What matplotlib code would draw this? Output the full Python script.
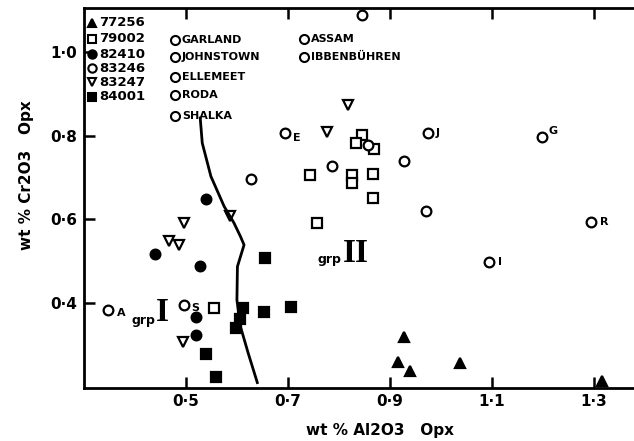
import matplotlib
matplotlib.use("Agg")
import matplotlib.pyplot as plt

# ---------------- data ----------------
s77256_x = [0.928, 0.916, 0.940, 1.038, 1.317]
s77256_y = [0.319, 0.258, 0.236, 0.256, 0.213]

s79002_x = [0.845, 0.833, 0.868, 0.743, 0.826, 0.826, 0.866, 0.866, 0.757, 0.556]
s79002_y = [0.802, 0.784, 0.768, 0.707, 0.707, 0.687, 0.708, 0.651, 0.591, 0.387]

s82410_x = [0.539, 0.439, 0.528, 0.519, 0.520]
s82410_y = [0.648, 0.517, 0.489, 0.366, 0.323]

s83246_x = [0.845, 0.627, 0.786, 0.858, 0.928, 0.971]
s83246_y = [1.090, 0.697, 0.728, 0.778, 0.741, 0.619]

s83247_x = [0.817, 0.776, 0.586, 0.497, 0.467, 0.486, 0.495]
s83247_y = [0.874, 0.810, 0.608, 0.591, 0.549, 0.539, 0.306]

s84001_x = [0.656, 0.611, 0.606, 0.598, 0.654, 0.706, 0.539, 0.558]
s84001_y = [0.507, 0.387, 0.361, 0.339, 0.377, 0.390, 0.278, 0.222]

# labelled localities (open circles with letter tags)
site_x = [0.694, 0.974, 1.198, 1.295, 1.095, 0.348, 0.496]
site_y = [0.808, 0.808, 0.798, 0.593, 0.498, 0.383, 0.395]
site_tag = ["E", "J", "G", "R", "I", "A", "S"]

# boundary curve
curve_x = [0.528, 0.532, 0.549, 0.575, 0.594, 0.607, 0.614, 0.601, 0.600, 0.607, 0.622, 0.640]
curve_y = [0.843, 0.783, 0.703, 0.631, 0.592, 0.559, 0.539, 0.487, 0.407, 0.343, 0.280, 0.209]

series_names = ["77256", "79002", "82410", "83246", "83247", "84001"]
sites_col1 = ["GARLAND", "JOHNSTOWN", "ELLEMEET", "RODA", "SHALKA"]
sites_col2 = ["ASSAM", "IBBENBÜHREN"]

xticks = [0.5, 0.7, 0.9, 1.1, 1.3]
xtick_labels = ["0·5", "0·7", "0·9", "1·1", "1·3"]
yticks = [0.4, 0.6, 0.8, 1.0]
ytick_labels = ["0·4", "0·6", "0·8", "1·0"]

# ---------------- figure ----------------
W, H = 634, 441
fig = plt.figure(figsize=(W / 100, H / 100), dpi=100)
ax = fig.add_axes([84 / W, 1 - 388 / H, 1 - 84 / W, (388 - 8) / H])
ax.set_xlim(0.3, 1.379)
ax.set_ylim(0.196, 1.1066)

k = "black"
ms_kw = dict(linestyle="none", markeredgecolor=k, markeredgewidth=1.6, clip_on=False)
ax.plot(s77256_x, s77256_y, marker="^", markersize=7, color=k, **ms_kw)
ax.plot(s79002_x, s79002_y, marker="s", markersize=6.5, markerfacecolor="white", **ms_kw)
ax.plot(s82410_x, s82410_y, marker="o", markersize=7, color=k, **ms_kw)
ax.plot(s83246_x, s83246_y, marker="o", markersize=7, markerfacecolor="white", **ms_kw)
ax.plot(s83247_x, s83247_y, marker="v", markersize=6.5, markerfacecolor="white", **ms_kw)
ax.plot(s84001_x, s84001_y, marker="s", markersize=7, color=k, **ms_kw)
ax.plot(site_x, site_y, marker="o", markersize=7, markerfacecolor="white", **ms_kw)

tag_offsets = {"E": (6, -4), "J": (6, 0), "G": (5, 4), "R": (6, 0),
               "I": (6, 0), "A": (6, -2), "S": (5, -2)}
for x, y, t in zip(site_x, site_y, site_tag):
    dx, dy = tag_offsets[t]
    ax.annotate(t, (x, y), xytext=(dx, dy), textcoords="offset points",
                ha="left", va="center", fontsize=8, fontweight="bold")

ax.plot(curve_x, curve_y, color=k, linewidth=2.0, clip_on=False)

# group labels
ax.text(0.416, 0.357, "grp", ha="center", va="center", fontsize=9, fontweight="bold")
ax.text(0.454, 0.376, "I", ha="center", va="center", fontsize=24, fontweight="bold",
        family="Liberation Serif")
ax.text(0.782, 0.505, "grp", ha="center", va="center", fontsize=9, fontweight="bold")
ax.text(0.833, 0.519, "II", ha="center", va="center", fontsize=24, fontweight="bold",
        family="Liberation Serif")

# axes styling
for side in ["left", "bottom", "top"]:
    ax.spines[side].set_linewidth(2.0)
ax.spines["right"].set_visible(False)
ax.set_xticks(xticks)
ax.set_xticklabels(xtick_labels)
ax.set_yticks(yticks)
ax.set_yticklabels(ytick_labels)
ax.tick_params(axis="both", direction="in", length=8, width=1.8, labelsize=11)
ax.tick_params(axis="x", top=True, pad=4)
ax.tick_params(axis="y", pad=5)
for lab in ax.get_xticklabels() + ax.get_yticklabels():
    lab.set_fontweight("bold")

def P(px, py):
    return (px / W, 1 - py / H)

fig.text(*P(380, 430), "wt % Al2O3   Opx", ha="center", va="center",
         fontsize=11, fontweight="bold")
fig.text(*P(27, 175), "wt % Cr2O3   Opx", ha="center", va="center",
         fontsize=11, fontweight="bold", rotation=90)

# sample legend (top-left)
leg_markers = [("^", k), ("s", "white"), ("o", k), ("o", "white"), ("v", "white"), ("s", k)]
leg_y = [23, 39, 54, 68, 82, 97]
for (m, fc), name, py in zip(leg_markers, series_names, leg_y):
    fx, fy = P(92, py)
    ax.plot([fx], [fy], marker=m, markersize=6, markerfacecolor=fc,
            markeredgecolor=k, markeredgewidth=1.5, linestyle="none",
            transform=fig.transFigure, clip_on=False)
    fig.text(*P(99, py), name, ha="left", va="center", fontsize=9.5, fontweight="bold")

# locality key
col1_y = [40, 57, 77, 95, 116]
for name, py in zip(sites_col1, col1_y):
    fx, fy = P(175, py)
    ax.plot([fx], [fy], marker="o", markersize=6.5, markerfacecolor="white",
            markeredgecolor=k, markeredgewidth=1.5, linestyle="none",
            transform=fig.transFigure, clip_on=False)
    fig.text(*P(182, py), name, ha="left", va="center", fontsize=8, fontweight="bold")
col2_y = [39, 57]
for name, py in zip(sites_col2, col2_y):
    fx, fy = P(304, py)
    ax.plot([fx], [fy], marker="o", markersize=6.5, markerfacecolor="white",
            markeredgecolor=k, markeredgewidth=1.5, linestyle="none",
            transform=fig.transFigure, clip_on=False)
    fig.text(*P(311, py), name, ha="left", va="center", fontsize=8, fontweight="bold")

fig.savefig("out.png", dpi=100)
